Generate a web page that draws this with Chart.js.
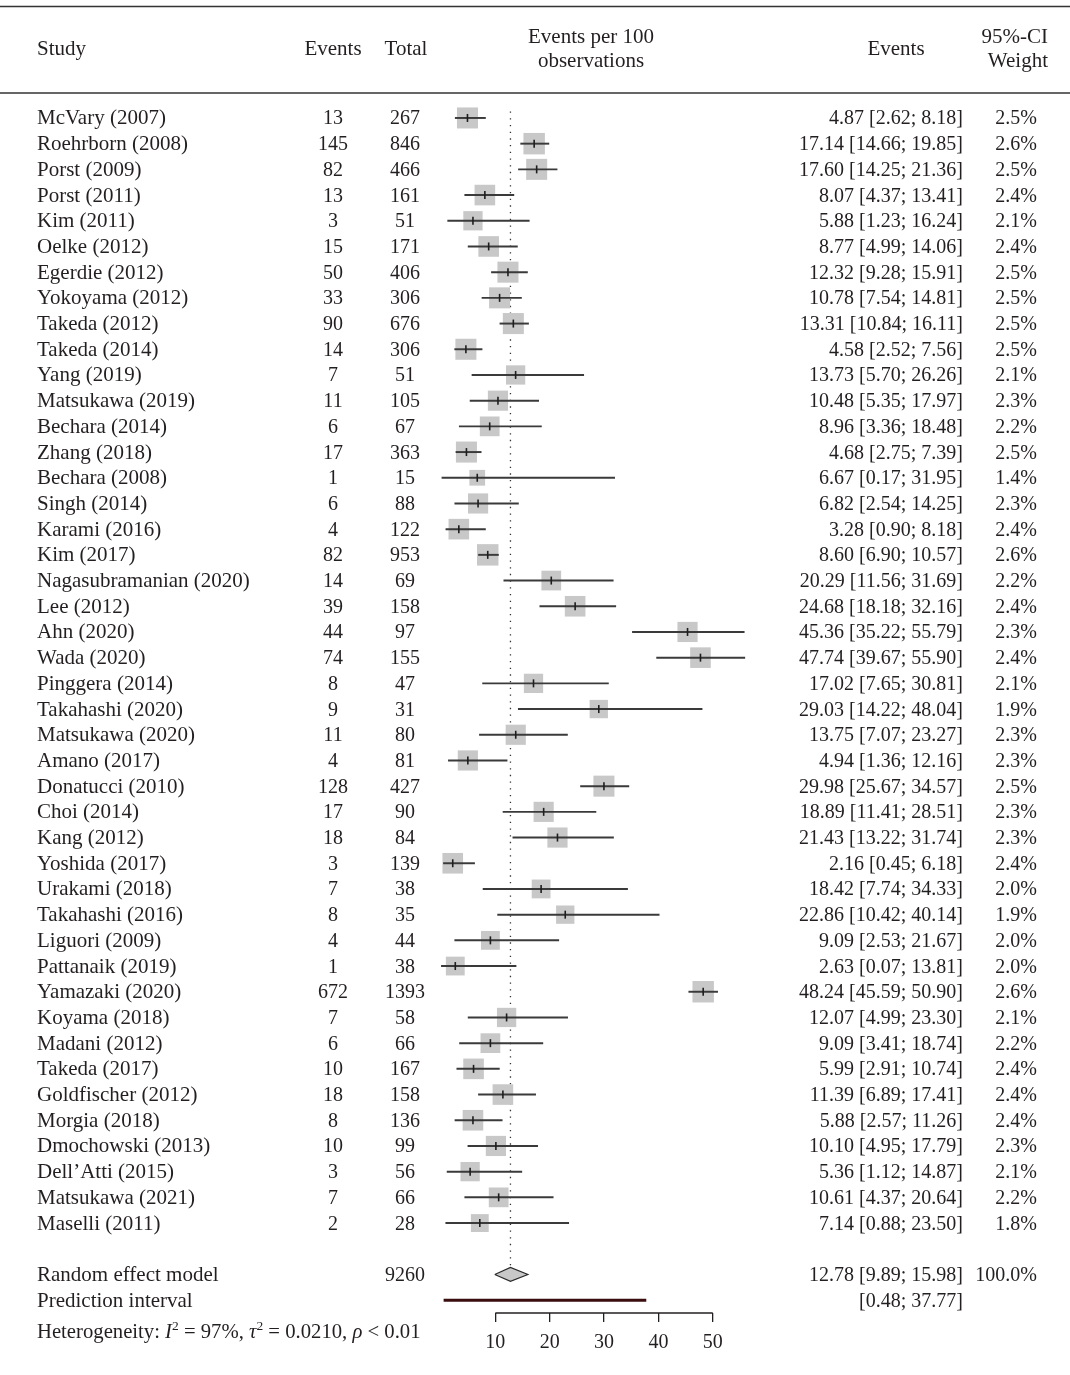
<!DOCTYPE html>
<html>
<head>
<meta charset="utf-8">
<script src="https://cdn.jsdelivr.net/npm/chart.js@4.4.1/dist/chart.umd.min.js"></script>
<style>
  html, body { margin: 0; padding: 0; background: #ffffff; }
  #wrap { width: 1070px; height: 1375px; }
</style>
</head>
<body>
<div id="wrap"><canvas id="forest" width="1070" height="1375"></canvas></div>
<script>
// ---- study-level data ----
const studies = [
  'McVary (2007)', 'Roehrborn (2008)', 'Porst (2009)', 'Porst (2011)', 'Kim (2011)',
  'Oelke (2012)', 'Egerdie (2012)', 'Yokoyama (2012)', 'Takeda (2012)', 'Takeda (2014)',
  'Yang (2019)', 'Matsukawa (2019)', 'Bechara (2014)', 'Zhang (2018)', 'Bechara (2008)',
  'Singh (2014)', 'Karami (2016)', 'Kim (2017)', 'Nagasubramanian (2020)', 'Lee (2012)',
  'Ahn (2020)', 'Wada (2020)', 'Pinggera (2014)', 'Takahashi (2020)', 'Matsukawa (2020)',
  'Amano (2017)', 'Donatucci (2010)', 'Choi (2014)', 'Kang (2012)', 'Yoshida (2017)',
  'Urakami (2018)', 'Takahashi (2016)', 'Liguori (2009)', 'Pattanaik (2019)', 'Yamazaki (2020)',
  'Koyama (2018)', 'Madani (2012)', 'Takeda (2017)', 'Goldfischer (2012)', 'Morgia (2018)',
  'Dmochowski (2013)', 'Dell\u2019Atti (2015)', 'Matsukawa (2021)', 'Maselli (2011)'
];
const events = [13, 145, 82, 13, 3, 15, 50, 33, 90, 14, 7, 11, 6, 17, 1, 6, 4, 82, 14, 39,
  44, 74, 8, 9, 11, 4, 128, 17, 18, 3, 7, 8, 4, 1, 672, 7, 6, 10, 18, 8, 10, 3, 7, 2];
const totals = [267, 846, 466, 161, 51, 171, 406, 306, 676, 306, 51, 105, 67, 363, 15, 88, 122, 953, 69, 158,
  97, 155, 47, 31, 80, 81, 427, 90, 84, 139, 38, 35, 44, 38, 1393, 58, 66, 167, 158, 136, 99, 56, 66, 28];
const estimates = [4.87, 17.14, 17.60, 8.07, 5.88, 8.77, 12.32, 10.78, 13.31, 4.58, 13.73, 10.48, 8.96, 4.68,
  6.67, 6.82, 3.28, 8.60, 20.29, 24.68, 45.36, 47.74, 17.02, 29.03, 13.75, 4.94, 29.98, 18.89, 21.43, 2.16,
  18.42, 22.86, 9.09, 2.63, 48.24, 12.07, 9.09, 5.99, 11.39, 5.88, 10.10, 5.36, 10.61, 7.14];
const lowerCI = [2.62, 14.66, 14.25, 4.37, 1.23, 4.99, 9.28, 7.54, 10.84, 2.52, 5.70, 5.35, 3.36, 2.75,
  0.17, 2.54, 0.90, 6.90, 11.56, 18.18, 35.22, 39.67, 7.65, 14.22, 7.07, 1.36, 25.67, 11.41, 13.22, 0.45,
  7.74, 10.42, 2.53, 0.07, 45.59, 4.99, 3.41, 2.91, 6.89, 2.57, 4.95, 1.12, 4.37, 0.88];
const upperCI = [8.18, 19.85, 21.36, 13.41, 16.24, 14.06, 15.91, 14.81, 16.11, 7.56, 26.26, 17.97, 18.48, 7.39,
  31.95, 14.25, 8.18, 10.57, 31.69, 32.16, 55.79, 55.90, 30.81, 48.04, 23.27, 12.16, 34.57, 28.51, 31.74, 6.18,
  34.33, 40.14, 21.67, 13.81, 50.90, 23.30, 18.74, 10.74, 17.41, 11.26, 17.79, 14.87, 20.64, 23.50];
const weights = [2.5, 2.6, 2.5, 2.4, 2.1, 2.4, 2.5, 2.5, 2.5, 2.5, 2.1, 2.3, 2.2, 2.5, 1.4, 2.3, 2.4, 2.6,
  2.2, 2.4, 2.3, 2.4, 2.1, 1.9, 2.3, 2.3, 2.5, 2.3, 2.3, 2.4, 2.0, 1.9, 2.0, 2.0, 2.6, 2.1, 2.2, 2.4, 2.4,
  2.4, 2.3, 2.1, 2.2, 1.8];

// ---- pooled results ----
const pooled = [12.78, 9.89, 15.98];      // estimate, lower, upper
const pooledTotal = 9260;
const pooledWeight = 100.0;
const prediction = [0.48, 37.77];
const axisTicks = [10, 20, 30, 40, 50];
const hetero = ['97%', '0.0210', '< 0.01'];  // I^2, tau^2, p

// ---- layout / style ----
const FONT = '"Liberation Serif", "Times New Roman", serif';
const WORDS = '21px ' + FONT;     // names and headings
const NUMS = '20px ' + FONT;      // numeric columns
const INK = '#231f20';
const BOX = '#c8c8c8';
const pooledRow = studies.length + 1;
const predRow = studies.length + 2;
const Y_MIN = -4, Y_MAX = 46.5;
const COL = { study: 37, events: 333, total: 405, ci: 963, weight: 1037 };

const rows = studies.map((_, i) => i);
const fmt = v => v.toFixed(2);

// text columns, rules and the heterogeneity line
const tablePlugin = {
  id: 'forestTable',
  afterDraw(chart) {
    const ctx = chart.ctx;
    const ys = chart.scales.y;
    const put = (txt, x, cy, align, font) => {
      ctx.font = font || NUMS;
      ctx.textAlign = align;
      ctx.textBaseline = 'alphabetic';
      ctx.fillText(txt, x, cy + 6.5);
    };
    ctx.save();
    ctx.fillStyle = INK;
    ctx.strokeStyle = '#333333';
    ctx.lineWidth = 1.6;
    [6.5, 93].forEach(h => {
      ctx.beginPath(); ctx.moveTo(0, h); ctx.lineTo(1070, h); ctx.stroke();
    });

    // header
    put('Study', COL.study, 48, 'left', WORDS);
    put('Events', COL.events, 48, 'center', WORDS);
    put('Total', 406, 48, 'center', WORDS);
    put('Events per 100', 591, 36, 'center', WORDS);
    put('observations', 591, 60, 'center', WORDS);
    put('Events', 896, 48, 'center', WORDS);
    put('95%-CI', 1048, 36, 'right', WORDS);
    put('Weight', 1048, 60, 'right', WORDS);

    // study rows
    rows.forEach(i => {
      const cy = ys.getPixelForValue(i);
      put(studies[i], COL.study, cy, 'left', WORDS);
      put(String(events[i]), COL.events, cy, 'center');
      put(String(totals[i]), COL.total, cy, 'center');
      put(fmt(estimates[i]) + ' [' + fmt(lowerCI[i]) + '; ' + fmt(upperCI[i]) + ']', COL.ci, cy, 'right');
      put(weights[i].toFixed(1) + '%', COL.weight, cy, 'right');
    });

    // pooled rows
    let cy = ys.getPixelForValue(pooledRow);
    put('Random effect model', COL.study, cy, 'left', WORDS);
    put(String(pooledTotal), COL.total, cy, 'center');
    put(fmt(pooled[0]) + ' [' + fmt(pooled[1]) + '; ' + fmt(pooled[2]) + ']', COL.ci, cy, 'right');
    put(pooledWeight.toFixed(1) + '%', COL.weight, cy, 'right');
    cy = ys.getPixelForValue(predRow);
    put('Prediction interval', COL.study, cy, 'left', WORDS);
    put('[' + fmt(prediction[0]) + '; ' + fmt(prediction[1]) + ']', COL.ci, cy, 'right');

    // heterogeneity statement with italic symbols and superscripts
    const hy = ys.getPixelForValue(Y_MAX) + 18;
    const base = hy + 6.5;
    let x = COL.study;
    const run = (txt, font, dy) => {
      ctx.font = font; ctx.textAlign = 'left'; ctx.textBaseline = 'alphabetic';
      ctx.fillText(txt, x, base + (dy || 0));
      x += ctx.measureText(txt).width;
    };
    const reg = '20.7px ' + FONT, ital = 'italic 20.7px ' + FONT, sup = '13.5px ' + FONT;
    run('Heterogeneity: ', reg);
    run('I', ital);
    run('2', sup, -8);
    run(' = ' + hetero[0] + ', ', reg);
    run('\u03c4', ital);
    run('2', sup, -8);
    run(' = ' + hetero[1] + ', ', reg);
    run('\u03c1', ital);
    run(' ' + hetero[2], reg);
    ctx.restore();
  }
};

const ctx = document.getElementById('forest').getContext('2d');
new Chart(ctx, {
  type: 'scatter',
  data: {
    datasets: [
      // per-study estimate marker (short vertical tick)
      {
        type: 'scatter', order: 1, clip: false,
        data: rows.map(i => ({ x: estimates[i], y: i })),
        pointStyle: 'line', rotation: 90, pointRadius: 4,
        pointBorderColor: '#1e1e1e', pointBorderWidth: 1.6, pointBackgroundColor: '#1e1e1e'
      },
      // confidence intervals
      {
        type: 'bar', indexAxis: 'y', order: 2, clip: false,
        data: rows.map(i => ({ x: [lowerCI[i], upperCI[i]], y: i })),
        barThickness: 1.3, backgroundColor: '#3a3a3a', borderWidth: 0
      },
      // weight boxes
      {
        type: 'scatter', order: 3, clip: false,
        data: rows.map(i => ({ x: estimates[i], y: i })),
        pointStyle: 'rect',
        pointRadius: weights.map(w => 13.3 * Math.sqrt(w) / Math.SQRT2),
        pointBackgroundColor: BOX, pointBorderWidth: 0, pointBorderColor: BOX
      },
      // pooled diamond
      {
        type: 'line', order: 0, clip: false,
        data: [
          { x: pooled[1], y: pooledRow },
          { x: pooled[0], y: pooledRow - 0.27 },
          { x: pooled[2], y: pooledRow },
          { x: pooled[0], y: pooledRow + 0.27 },
          { x: pooled[1], y: pooledRow }
        ],
        borderColor: '#2a2a2a', borderWidth: 1.2, backgroundColor: BOX,
        fill: 'shape', tension: 0, pointRadius: 0
      },
      // reference line at the pooled estimate
      {
        type: 'line', order: 4, clip: false,
        data: [{ x: pooled[0], y: -0.25 }, { x: pooled[0], y: pooledRow - 0.3 }],
        borderColor: '#333333', borderWidth: 1.3, borderDash: [1.3, 5.4],
        pointRadius: 0, fill: false
      },
      // prediction interval
      {
        type: 'line', order: 0, clip: false,
        data: [{ x: prediction[0], y: predRow }, { x: prediction[1], y: predRow }],
        borderColor: '#3a0d0f', borderWidth: 3, pointRadius: 0, fill: false, borderCapStyle: 'butt'
      },
      // axis baseline between the outer ticks
      {
        type: 'line', order: 0, clip: false,
        data: [{ x: axisTicks[0], y: Y_MAX }, { x: axisTicks[axisTicks.length - 1], y: Y_MAX }],
        borderColor: INK, borderWidth: 1.3, pointRadius: 0, fill: false
      }
    ]
  },
  options: {
    responsive: false,
    animation: false,
    events: [],
    layout: { padding: { left: 441, right: 302.9, top: 15, bottom: 11 } },
    plugins: { legend: { display: false }, tooltip: { enabled: false }, title: { display: false } },
    scales: {
      x: {
        type: 'linear', min: 0, max: 60, offset: false, beginAtZero: false,
        afterBuildTicks: s => { s.ticks = axisTicks.map(v => ({ value: v })); },
        grid: { drawOnChartArea: false, drawTicks: true, tickLength: 9, color: INK, lineWidth: 1.3 },
        border: { display: false },
        ticks: { padding: 9, color: INK, font: { family: FONT, size: 20 }, maxRotation: 0, autoSkip: false }
      },
      y: {
        type: 'linear', min: Y_MIN, max: Y_MAX, reverse: true, offset: false, display: false
      }
    }
  },
  plugins: [tablePlugin]
});
</script>
</body>
</html>
